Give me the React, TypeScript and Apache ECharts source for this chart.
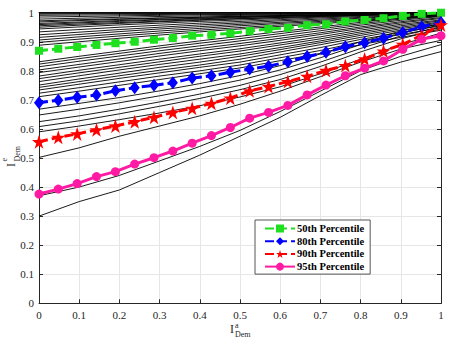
import React, { useEffect, useRef } from "react";
import * as echarts from "echarts";

// x positions of the thin black curves
const xGrid = [0, 0.1, 0.2, 0.3, 0.4, 0.5, 0.6, 0.7, 0.8, 0.9, 1];
// x positions of the percentile markers
const xPct = [0, 0.048, 0.095, 0.143, 0.19, 0.238, 0.286, 0.333, 0.381, 0.429, 0.476, 0.524, 0.571, 0.619, 0.667, 0.714, 0.762, 0.81, 0.857, 0.905, 0.952, 1];

const p50 = [0.869, 0.876, 0.882, 0.889, 0.895, 0.9, 0.907, 0.913, 0.921, 0.924, 0.929, 0.937, 0.944, 0.948, 0.957, 0.96, 0.97, 0.975, 0.981, 0.989, 0.996, 1.0];
const p80 = [0.69, 0.699, 0.709, 0.717, 0.731, 0.742, 0.75, 0.759, 0.775, 0.783, 0.795, 0.806, 0.816, 0.831, 0.849, 0.864, 0.883, 0.897, 0.912, 0.932, 0.952, 0.966];
const p90 = [0.556, 0.571, 0.583, 0.597, 0.61, 0.625, 0.64, 0.657, 0.671, 0.688, 0.706, 0.731, 0.746, 0.763, 0.781, 0.801, 0.818, 0.841, 0.868, 0.891, 0.923, 0.958];
const p95 = [0.376, 0.393, 0.412, 0.436, 0.453, 0.479, 0.501, 0.524, 0.551, 0.577, 0.605, 0.637, 0.657, 0.681, 0.717, 0.751, 0.783, 0.809, 0.834, 0.874, 0.909, 0.921];

const pctNames = ["50th Percentile", "80th Percentile", "90th Percentile", "95th Percentile"];

// thin black curves, values at xGrid
const top1 = [1, 1, 1, 1, 1, 1, 1, 1, 1, 1, 1];
const top2 = [0.998, 0.998, 0.999, 0.999, 0.999, 1, 1, 1, 1, 1, 1];
const top3 = [0.995, 0.996, 0.997, 0.997, 0.998, 0.998, 0.999, 0.999, 1, 1, 1];
const top4 = [0.991, 0.992, 0.993, 0.994, 0.995, 0.996, 0.997, 0.998, 0.999, 1, 1];
const top5 = [0.985, 0.987, 0.989, 0.991, 0.993, 0.994, 0.995, 0.997, 0.998, 0.999, 1];
const top6 = [0.978, 0.981, 0.984, 0.987, 0.989, 0.991, 0.993, 0.995, 0.997, 0.998, 1];
const top7 = [0.972, 0.976, 0.979, 0.982, 0.985, 0.988, 0.99, 0.993, 0.995, 0.997, 0.999];
const top8 = [0.968, 0.973, 0.977, 0.981, 0.984, 0.987, 0.99, 0.993, 0.995, 0.997, 0.999];
const top9 = [0.963, 0.968, 0.973, 0.977, 0.981, 0.985, 0.988, 0.991, 0.994, 0.996, 0.999];
const top10 = [0.959, 0.965, 0.97, 0.975, 0.979, 0.983, 0.987, 0.99, 0.993, 0.996, 0.999];
const top11 = [0.955, 0.961, 0.966, 0.971, 0.976, 0.98, 0.984, 0.988, 0.992, 0.995, 0.998];
const top12 = [0.95, 0.957, 0.963, 0.969, 0.974, 0.979, 0.983, 0.987, 0.991, 0.995, 0.998];
const top13 = [0.944, 0.951, 0.958, 0.964, 0.97, 0.975, 0.98, 0.985, 0.99, 0.994, 0.998];
const top14 = [0.934, 0.942, 0.95, 0.957, 0.964, 0.97, 0.976, 0.982, 0.987, 0.992, 0.997];
const top15 = [0.924, 0.933, 0.942, 0.95, 0.958, 0.965, 0.972, 0.978, 0.984, 0.99, 0.996];
const top16 = [0.915, 0.925, 0.935, 0.944, 0.952, 0.96, 0.967, 0.974, 0.981, 0.988, 0.994];
const top17 = [0.906, 0.917, 0.927, 0.937, 0.946, 0.955, 0.963, 0.97, 0.977, 0.985, 0.992];
const top18 = [0.898, 0.909, 0.92, 0.93, 0.94, 0.949, 0.958, 0.966, 0.974, 0.982, 0.99];
const top19 = [0.888, 0.9, 0.912, 0.923, 0.934, 0.944, 0.953, 0.962, 0.971, 0.98, 0.988];
const mid1 = [0.831, 0.85, 0.868, 0.886, 0.903, 0.919, 0.935, 0.951, 0.967, 0.982, 0.994];
const mid2 = [0.823, 0.842, 0.86, 0.878, 0.895, 0.911, 0.928, 0.945, 0.962, 0.978, 0.99];
const mid3 = [0.814, 0.833, 0.851, 0.869, 0.886, 0.903, 0.92, 0.938, 0.957, 0.974, 0.987];
const mid4 = [0.803, 0.822, 0.841, 0.86, 0.877, 0.894, 0.912, 0.931, 0.951, 0.969, 0.983];
const mid5 = [0.794, 0.813, 0.832, 0.851, 0.869, 0.886, 0.905, 0.925, 0.946, 0.965, 0.98];
const mid6 = [0.782, 0.802, 0.821, 0.84, 0.858, 0.876, 0.896, 0.917, 0.94, 0.96, 0.975];
const mid7 = [0.773, 0.793, 0.812, 0.831, 0.85, 0.868, 0.889, 0.91, 0.934, 0.955, 0.972];
const mid8 = [0.763, 0.783, 0.803, 0.822, 0.84, 0.858, 0.88, 0.903, 0.928, 0.95, 0.968];
const mid9 = [0.751, 0.772, 0.792, 0.812, 0.83, 0.85, 0.873, 0.897, 0.922, 0.945, 0.965];
const mid10 = [0.743, 0.763, 0.783, 0.802, 0.82, 0.84, 0.865, 0.89, 0.915, 0.94, 0.96];
const mid11 = [0.734, 0.754, 0.774, 0.793, 0.812, 0.83, 0.855, 0.88, 0.908, 0.932, 0.955];
const mid12 = [0.723, 0.742, 0.762, 0.782, 0.8, 0.82, 0.845, 0.87, 0.9, 0.925, 0.948];
const mid13 = [0.711, 0.73, 0.75, 0.77, 0.79, 0.81, 0.835, 0.86, 0.89, 0.915, 0.94];
const low1 = [0.668, 0.688, 0.708, 0.731, 0.756, 0.784, 0.818, 0.858, 0.9, 0.937, 0.962];
const low2 = [0.648, 0.668, 0.69, 0.714, 0.74, 0.768, 0.803, 0.845, 0.89, 0.93, 0.958];
const low3 = [0.625, 0.645, 0.668, 0.693, 0.72, 0.75, 0.787, 0.83, 0.877, 0.92, 0.952];
const low4 = [0.608, 0.628, 0.652, 0.678, 0.705, 0.735, 0.77, 0.815, 0.865, 0.91, 0.945];
const low5 = [0.59, 0.61, 0.632, 0.655, 0.68, 0.71, 0.745, 0.79, 0.84, 0.89, 0.93];
const low6 = [0.502, 0.535, 0.575, 0.61, 0.645, 0.685, 0.73, 0.78, 0.83, 0.875, 0.905];
const low7 = [0.37, 0.4, 0.44, 0.49, 0.54, 0.595, 0.66, 0.73, 0.8, 0.85, 0.89];
const low8 = [0.3, 0.35, 0.39, 0.45, 0.51, 0.575, 0.64, 0.715, 0.787, 0.83, 0.866];

const blackLines = [
  top1, top2, top3, top4, top5, top6, top7, top8, top9, top10, top11, top12, top13, top14, top15, top16, top17, top18, top19,
  mid1, mid2, mid3, mid4, mid5, mid6, mid7, mid8, mid9, mid10, mid11, mid12, mid13,
  low1, low2, low3, low4, low5, low6, low7, low8,
];

const axisTicks = [0, 0.1, 0.2, 0.3, 0.4, 0.5, 0.6, 0.7, 0.8, 0.9, 1];

const STAR = "path://M50,0 L61.8,35.4 L98.9,35.5 L69,57.5 L80.3,93 L50,71.2 L19.7,93 L31,57.5 L1.1,35.5 L38.2,35.4 Z";
const FONT = "'Liberation Serif', 'Times New Roman', serif";
const AXC = "#262626";
const GREEN = "#1fe01f";
const BLUE = "#0000ff";
const RED = "#ff0000";
const PINK = "#ff1aa3";

export default function App() {
  const ref = useRef<HTMLDivElement>(null);
  useEffect(() => {
    if (!ref.current) return;
    const chart = echarts.init(ref.current, undefined, { renderer: "svg" });
    const toPairs = (xs: number[], ys: number[]) => xs.map((x, i) => [x, ys[i]]);
    const blackSeries = blackLines.map((ln, k) => ({
      type: "line",
      name: "c" + k,
      data: toPairs(xGrid, ln),
      symbol: "none",
      silent: true,
      z: 2,
      lineStyle: { color: "#000", width: 0.9 },
    }));
    const pctSeries = [
      {
        name: pctNames[0], data: toPairs(xPct, p50), symbol: "rect", symbolSize: 8,
        itemStyle: { color: GREEN },
        lineStyle: { color: GREEN, width: 3, type: [9, 4] },
      },
      {
        name: pctNames[1], data: toPairs(xPct, p80), symbol: "diamond", symbolSize: [10, 13],
        itemStyle: { color: BLUE },
        lineStyle: { color: BLUE, width: 3, type: [9, 4] },
      },
      {
        name: pctNames[2], data: toPairs(xPct, p90), symbol: STAR, symbolSize: 14,
        itemStyle: { color: RED },
        lineStyle: { color: RED, width: 3, type: [9, 4] },
      },
      {
        name: pctNames[3], data: toPairs(xPct, p95), symbol: "circle", symbolSize: 9,
        itemStyle: { color: PINK },
        lineStyle: { color: PINK, width: 3, type: "solid" },
      },
    ].map((s) => ({ ...s, type: "line", z: 5, showAllSymbol: true }));

    const mkAxis = (pos: string, labels: boolean, grid: boolean) => ({
      type: "value",
      position: pos,
      min: 0,
      max: 1,
      interval: 0.1,
      axisLine: { show: true, onZero: false, lineStyle: { color: AXC, width: 1 } },
      axisTick: { show: true, inside: true, length: 4, lineStyle: { color: AXC } },
      axisLabel: labels
        ? { show: true, color: AXC, fontFamily: FONT, fontSize: 11, margin: pos === "bottom" ? 6 : 5, formatter: (v: number) => String(axisTicks.find((t) => Math.abs(t - v) < 1e-6) ?? v) }
        : { show: false },
      splitLine: { show: grid, lineStyle: { color: "#e6e6e6", width: 1 } },
    });

    chart.setOption({
      animation: false,
      backgroundColor: "#fff",
      grid: { left: 39, right: 16, top: 12.7, bottom: 39.7 },
      xAxis: [mkAxis("bottom", true, true), mkAxis("top", false, false)],
      yAxis: [mkAxis("left", true, true), mkAxis("right", false, false)],
      legend: {
        data: pctNames,
        orient: "vertical",
        left: 255,
        top: 220,
        itemWidth: 30,
        itemHeight: 10,
        itemGap: 1.7,
        padding: [3, 6, 2, 9],
        backgroundColor: "#fff",
        borderColor: "#555",
        borderWidth: 1,
        borderRadius: 0,
        textStyle: { fontFamily: FONT, fontSize: 10.5, fontWeight: "bold", color: "#000", padding: [0, 0, 0, -3] },
      },
      graphic: [
        {
          type: "group", x: 11, y: 167, rotation: Math.PI / 2,
          children: [
            { type: "text", x: 0, y: 0, style: { text: "I", fontFamily: FONT, fontSize: 12, fill: AXC, verticalAlign: "middle" } },
            { type: "text", x: 5.5, y: -7, style: { text: "e", fontFamily: FONT, fontSize: 8, fill: AXC, verticalAlign: "middle" } },
            { type: "text", x: 5.5, y: 6, style: { text: "Dem", fontFamily: FONT, fontSize: 8, fill: AXC, verticalAlign: "middle" } },
          ],
        },
        {
          type: "group", x: 230, y: 329,
          children: [
            { type: "text", x: 0, y: 0, style: { text: "I", fontFamily: FONT, fontSize: 12, fill: AXC, verticalAlign: "middle" } },
            { type: "text", x: 5, y: -3.8, style: { text: "a", fontFamily: FONT, fontSize: 8, fill: AXC, verticalAlign: "middle" } },
            { type: "text", x: 5, y: 5.5, style: { text: "Dem", fontFamily: FONT, fontSize: 8, fill: AXC, verticalAlign: "middle" } },
          ],
        },
      ],
      series: [...blackSeries, ...pctSeries],
    });
    return () => chart.dispose();
  }, []);
  return <div ref={ref} style={{ position: "fixed", left: 0, top: 0, width: 457, height: 343 }} />;
}
